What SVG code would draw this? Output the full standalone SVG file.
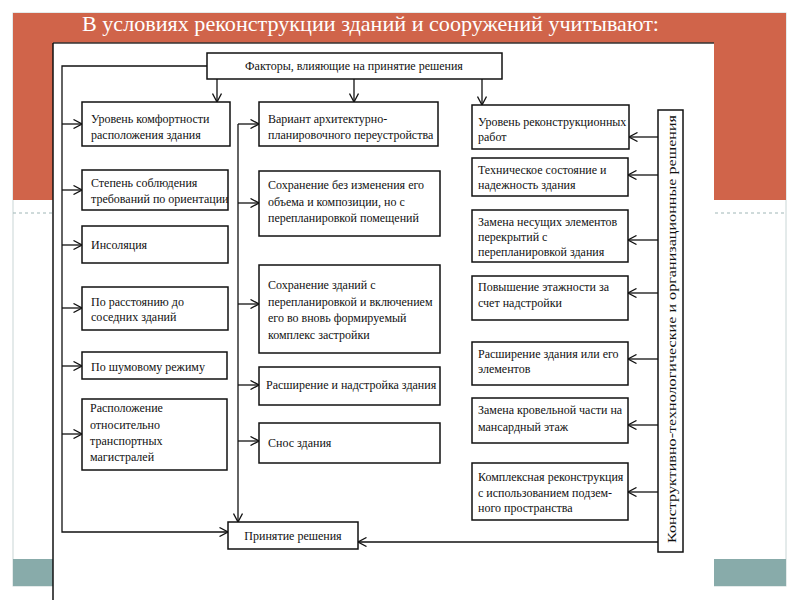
<svg xmlns="http://www.w3.org/2000/svg" width="800" height="600" viewBox="0 0 800 600">
<defs>
<style>
.box{fill:#fff;stroke:#111;stroke-width:1.5}
.t{font-family:"Liberation Serif","Times New Roman",serif;font-size:12px;fill:#111}
.c{text-anchor:middle}
.ln{fill:none;stroke:#111;stroke-width:1.3}
.ar{fill:none;stroke:#111;stroke-width:1.3;marker-end:url(#ah)}
</style>
<marker id="ah" viewBox="0 0 10 10" markerWidth="10" markerHeight="10" refX="9.5" refY="5" orient="auto" markerUnits="userSpaceOnUse">
<path d="M1,0.5 L9.5,5 L1,9.5" fill="none" stroke="#111" stroke-width="1.3"/>
</marker>
</defs>
<rect x="0" y="0" width="800" height="600" fill="#fff"/>
<g id="slide">
<rect x="13" y="13" width="773" height="573" fill="#fff" stroke="#c9d6d6" stroke-width="1"/>
<rect x="13" y="13" width="773" height="187" fill="#d0644a"/>
<line x1="13" y1="213" x2="786" y2="213" stroke="#9fb6b6" stroke-width="1" stroke-dasharray="3,3"/>
<rect x="13" y="559" width="773" height="27" fill="#88abaa"/>
<text x="82" y="31" font-family="'Liberation Serif','Times New Roman',serif" font-size="21" fill="#fff" textLength="577" lengthAdjust="spacingAndGlyphs">В условиях реконструкции зданий и сооружений учитывают:</text>
<rect x="53" y="43" width="661" height="557" fill="#fff"/>
<line x1="53" y1="43" x2="714" y2="43" stroke="#333" stroke-width="1.5"/>
<line x1="53" y1="43" x2="53" y2="600" stroke="#111" stroke-width="1.5"/>
</g>
<g id="connectors">
<polyline class="ar" points="207,66 62,66 62,532 228,532"/>
<line class="ar" x1="62" y1="124" x2="82" y2="124"/>
<line class="ar" x1="62" y1="190" x2="82" y2="190"/>
<line class="ar" x1="62" y1="245" x2="82" y2="245"/>
<line class="ar" x1="62" y1="308" x2="82" y2="308"/>
<line class="ar" x1="62" y1="366" x2="82" y2="366"/>
<line class="ar" x1="62" y1="434" x2="82" y2="434"/>
<line class="ar" x1="217" y1="79" x2="217" y2="102"/>
<line class="ar" x1="354" y1="79" x2="354" y2="102"/>
<line class="ar" x1="482" y1="79" x2="482" y2="105"/>
<line class="ar" x1="238" y1="124" x2="238" y2="522"/>
<line class="ar" x1="238" y1="124" x2="259" y2="124"/>
<line class="ar" x1="238" y1="203" x2="259" y2="203"/>
<line class="ar" x1="238" y1="304" x2="259" y2="304"/>
<line class="ar" x1="238" y1="385" x2="259" y2="385"/>
<line class="ar" x1="238" y1="441" x2="259" y2="441"/>
<line class="ar" x1="658" y1="137" x2="629" y2="137"/>
<line class="ar" x1="658" y1="175" x2="628" y2="175"/>
<line class="ar" x1="658" y1="240" x2="628" y2="240"/>
<line class="ar" x1="658" y1="293" x2="628" y2="293"/>
<line class="ar" x1="658" y1="359" x2="628" y2="359"/>
<line class="ar" x1="658" y1="425" x2="628" y2="425"/>
<line class="ar" x1="658" y1="492" x2="628" y2="492"/>
<line class="ar" x1="658" y1="542" x2="358" y2="542"/>
</g>
<g id="n-factors"><rect class="box" x="207" y="53" width="295" height="26"/><text class="t c" x="354" y="70">Факторы, влияющие на принятие решения</text></g>
<g id="n-decision"><rect class="box" x="228" y="522" width="130" height="27"/><text class="t c" x="293" y="540">Принятие решения</text></g>
<g id="n-solutions"><rect class="box" x="658" y="110" width="25" height="442"/><text class="t c" transform="translate(676,329) rotate(-90)" font-size="14.5" textLength="428" lengthAdjust="spacingAndGlyphs">Конструктивно-технологические и организационные решения</text></g>
<g id="n-l1"><rect class="box" x="82" y="102" width="148" height="44"/><text class="t" x="91" y="123">Уровень комфортности</text><text class="t" x="91" y="139">расположения здания</text></g>
<g id="n-l2"><rect class="box" x="82" y="170" width="146" height="40"/><text class="t" x="91" y="187">Степень соблюдения</text><text class="t" x="91" y="203">требований по ориентации</text></g>
<g id="n-l3"><rect class="box" x="82" y="226" width="146" height="37"/><text class="t" x="91" y="249">Инсоляция</text></g>
<g id="n-l4"><rect class="box" x="82" y="287" width="146" height="43"/><text class="t" x="91" y="306">По расстоянию до</text><text class="t" x="91" y="321">соседних зданий</text></g>
<g id="n-l5"><rect class="box" x="82" y="352" width="145" height="27"/><text class="t" x="91" y="371">По шумовому режиму</text></g>
<g id="n-l6"><rect class="box" x="82" y="399" width="145" height="71"/><text class="t" x="90" y="412">Расположение</text><text class="t" x="90" y="429">относительно</text><text class="t" x="90" y="445">транспортных</text><text class="t" x="90" y="461">магистралей</text></g>
<g id="n-m1"><rect class="box" x="259" y="102" width="179" height="44"/><text class="t" x="268" y="123">Вариант архитектурно-</text><text class="t" x="268" y="139">планировочного переустройства</text></g>
<g id="n-m2"><rect class="box" x="259" y="171" width="181" height="65"/><text class="t" x="268" y="189">Сохранение без изменения его</text><text class="t" x="268" y="206">объема и композиции, но с</text><text class="t" x="268" y="222">перепланировкой помещений</text></g>
<g id="n-m3"><rect class="box" x="259" y="265" width="181" height="88"/><text class="t" x="268" y="289">Сохранение зданий с</text><text class="t" x="268" y="306">перепланировкой и включением</text><text class="t" x="268" y="322">его во вновь формируемый</text><text class="t" x="268" y="339">комплекс застройки</text></g>
<g id="n-m4"><rect class="box" x="259" y="367" width="181" height="38"/><text class="t" x="266" y="389">Расширение и надстройка здания</text></g>
<g id="n-m5"><rect class="box" x="259" y="423" width="181" height="40"/><text class="t" x="268" y="447">Снос здания</text></g>
<g id="n-r1"><rect class="box" x="472" y="105" width="157" height="44"/><text class="t" x="478" y="126">Уровень реконструкционных</text><text class="t" x="478" y="141">работ</text></g>
<g id="n-r2"><rect class="box" x="472" y="158" width="156" height="38"/><text class="t" x="478" y="174">Техническое состояние и</text><text class="t" x="478" y="189">надежность здания</text></g>
<g id="n-r3"><rect class="box" x="472" y="210" width="156" height="52"/><text class="t" x="478" y="226">Замена несущих элементов</text><text class="t" x="478" y="241">перекрытий с</text><text class="t" x="478" y="256">перепланировкой здания</text></g>
<g id="n-r4"><rect class="box" x="472" y="276" width="156" height="44"/><text class="t" x="478" y="291">Повышение этажности за</text><text class="t" x="478" y="307">счет надстройки</text></g>
<g id="n-r5"><rect class="box" x="472" y="342" width="156" height="43"/><text class="t" x="478" y="358">Расширение здания или его</text><text class="t" x="478" y="373">элементов</text></g>
<g id="n-r6"><rect class="box" x="472" y="398" width="156" height="45"/><text class="t" x="478" y="414">Замена кровельной части на</text><text class="t" x="478" y="431">мансардный этаж</text></g>
<g id="n-r7"><rect class="box" x="472" y="463" width="156" height="57"/><text class="t" x="478" y="481">Комплексная реконструкция</text><text class="t" x="478" y="497">с использованием подзем-</text><text class="t" x="478" y="512">ного пространства</text></g>
</svg>
